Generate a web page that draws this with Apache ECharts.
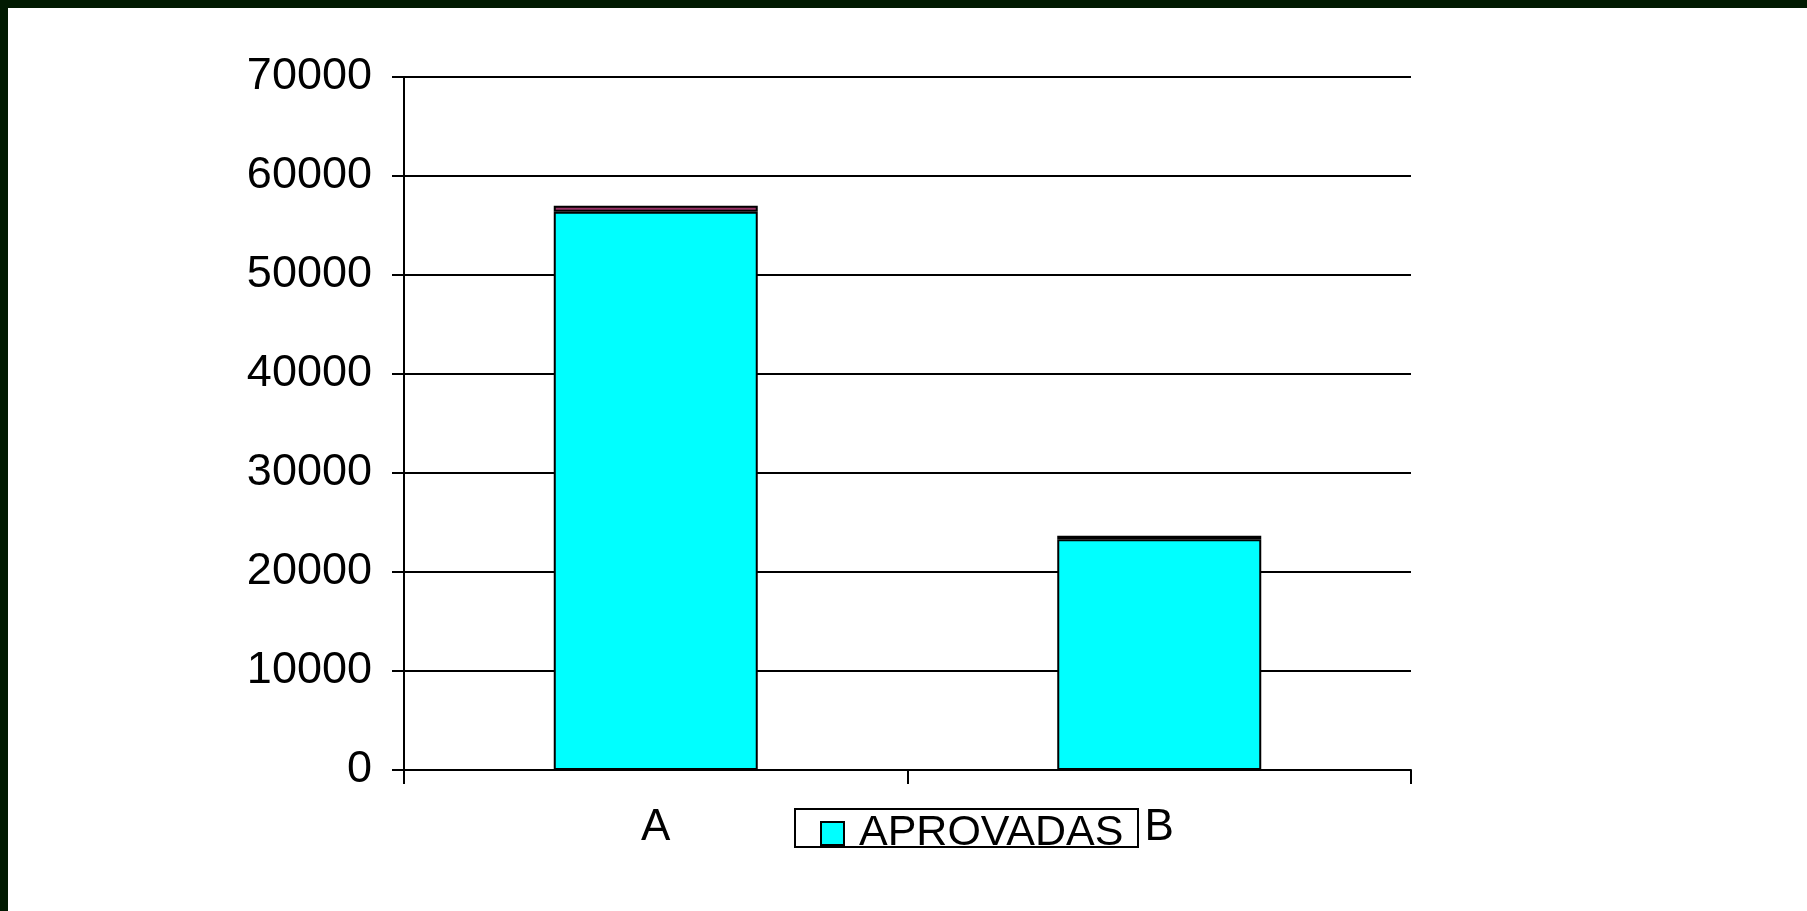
<!DOCTYPE html>
<html>
<head>
<meta charset="utf-8">
<script src="https://cdn.jsdelivr.net/npm/echarts@6/dist/echarts.min.js"></script>
<style>
html,body{margin:0;padding:0;background:#fff;}
#chart{position:absolute;left:0;top:0;width:1807px;height:911px;background:#fff;}
.frame{position:absolute;background:#011a01;z-index:10;}
</style>
</head>
<body>
<div id="chart"></div>
<div class="frame" style="left:0;top:0;width:1807px;height:8px;"></div>
<div class="frame" style="left:0;top:0;width:8px;height:911px;"></div>
<script>
const categories = ['A', 'B'];
const aprovadas = [56400, 23300];
const reprovadas = [600, 350];
const yTicks = [0, 10000, 20000, 30000, 40000, 50000, 60000, 70000];

const chart = echarts.init(document.getElementById('chart'));
const font = 'Liberation Sans, Arial, sans-serif';
chart.setOption({
  animation: false,
  backgroundColor: '#fff',
  textStyle: {fontFamily: font},
  grid: {left: 404, right: 396, top: 77, bottom: 141, containLabel: false},
  xAxis: {
    type: 'category',
    data: categories,
    boundaryGap: true,
    axisLine: {lineStyle: {color: '#000', width: 2}},
    axisTick: {show: true, length: 14, lineStyle: {color: '#000', width: 2}},
    axisLabel: {color: '#000', fontSize: 44, fontFamily: font, margin: 36}
  },
  yAxis: {
    type: 'value',
    min: yTicks[0],
    max: yTicks[yTicks.length - 1],
    interval: 10000,
    axisLine: {show: true, lineStyle: {color: '#000', width: 2}},
    axisTick: {show: true, length: 12, lineStyle: {color: '#000', width: 2}},
    splitLine: {show: true, lineStyle: {color: '#000', width: 2}},
    axisLabel: {color: '#000', fontSize: 45, fontFamily: font, margin: 32,
      formatter: function (v) { return String(v); }}
  },
  legend: {
    data: ['APROVADAS'],
    left: 820,
    top: 805,
    orient: 'horizontal',
    padding: 0,
    itemWidth: 23,
    itemHeight: 23,
    icon: 'rect',
    itemStyle: {borderColor: '#000', borderWidth: 2},
    textStyle: {color: '#000', fontSize: 43, fontFamily: font, lineHeight: 43, padding: [14, 0, 0, 10]}
  },
  graphic: [
    {
      type: 'rect', z: 100,
      shape: {x: 850, y: 849, width: 280, height: 40},
      style: {fill: '#fff'}
    },
    {
      type: 'rect', z: 101,
      shape: {x: 795, y: 809, width: 343, height: 38},
      style: {fill: 'none', stroke: '#000', lineWidth: 2}
    }
  ],
  series: [
    {
      name: 'APROVADAS', type: 'bar', stack: 'total',
      data: aprovadas, barWidth: 204,
      itemStyle: {color: '#00ffff', borderColor: '#000', borderWidth: 2}
    },
    {
      name: 'REPROVADAS', type: 'bar', stack: 'total',
      data: reprovadas, barWidth: 204,
      itemStyle: {color: '#993366', borderColor: '#000', borderWidth: 2}
    }
  ]
});
</script>
</body>
</html>
